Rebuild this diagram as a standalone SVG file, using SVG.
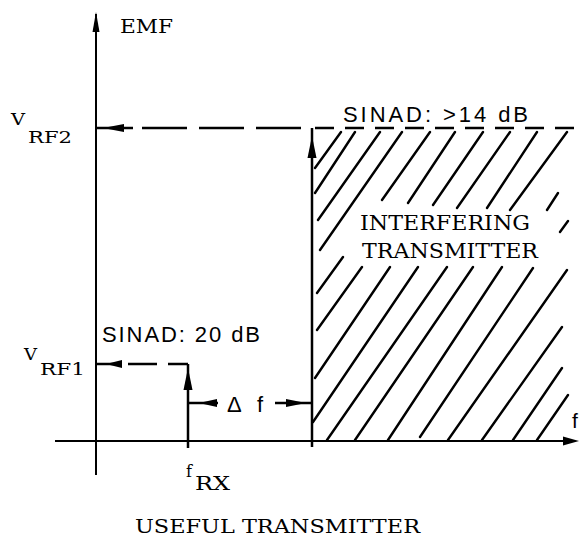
<svg xmlns="http://www.w3.org/2000/svg" width="580" height="540" viewBox="0 0 580 540">
<style>
.ln{stroke:#000;stroke-width:2;fill:none}
.thk{stroke:#000;stroke-width:2.5;fill:none}
.h{stroke:#000;stroke-width:2.4;stroke-linecap:round;fill:none}
.ah{fill:#000;stroke:none}
.sf{font-family:"DejaVu Serif","Liberation Serif",serif;fill:#000}
.ss{font-family:"Liberation Sans",Arial,sans-serif;fill:#000}
</style>
<rect width="580" height="540" fill="#fff"/>

<g id="axes">
  <path class="ln" d="M96 14 V475"/>
  <polygon class="ah" points="96,12 92.5,32 99.5,32"/>
  <path class="ln" d="M55 441 H566"/>
  <polygon class="ah" points="579,441 563,436.5 563,445.5"/>
  <text class="sf" x="120" y="33" font-size="18" textLength="53" lengthAdjust="spacingAndGlyphs">EMF</text>
  <text class="ss" x="572" y="428" font-size="21">f</text>
</g>

<g id="hatch">
  <path class="h" d="M315 168 L341 132 M315 193 L355 132 M318 220 L380 132 M320 250 L402 132 M382 200 L430 132 M408 203 L455 132 M433 205 L483 132 M457 208 L510 132 M487 208 L537 132 M510 210 L567 132 M547 210 L558 193 M560 232 L568 221"/>
  <path class="h" d="M317 293 L343 257 M317 330 L362 267 M315 378 L390 267 M313 422 L418 267 M327 440 L447 267 M355 440 L473 267 M388 440 L502 267 M420 437 L533 268 M448 440 L567 270 M482 440 L562 327 M513 440 L562 368 M537 440 L568 395"/>
</g>

<g id="connectors">
  <path class="thk" d="M97 128 H133"/>
  <polygon class="ah" points="103,128 124,124 124,132"/>
  <path class="thk" d="M142 128 H304" stroke-dasharray="45 12"/>
  <path class="thk" d="M315 128 H580" stroke-dasharray="19 11"/>
  <path class="thk" d="M312 128 V447"/>
  <polygon class="ah" points="312,136 307.5,158 316.5,158"/>
  <path class="thk" d="M96 364 H122"/>
  <polygon class="ah" points="106,364 122,360 122,368"/>
  <path class="thk" d="M128 364 H157 M168 364 H188"/>
  <path class="thk" d="M188 364 V448"/>
  <polygon class="ah" points="188,368 183.5,390 192.5,390"/>
  <path class="thk" d="M188 403 H218"/>
  <polygon class="ah" points="199,403 217,399 217,407"/>
  <path class="thk" d="M275 403 H312"/>
  <polygon class="ah" points="306,403 286,399 286,407"/>
</g>

<g id="labels">
  <text class="sf" x="11" y="125" font-size="16" textLength="14" lengthAdjust="spacingAndGlyphs">V</text>
  <text class="sf" x="28" y="143" font-size="17" textLength="44" lengthAdjust="spacingAndGlyphs">RF2</text>
  <text class="sf" x="24" y="360" font-size="16" textLength="13" lengthAdjust="spacingAndGlyphs">V</text>
  <text class="sf" x="40" y="375" font-size="17" textLength="45" lengthAdjust="spacingAndGlyphs">RF1</text>
  <text class="ss" x="343" y="122" font-size="22" textLength="185" lengthAdjust="spacing">SINAD: &gt;14 dB</text>
  <text class="ss" x="102" y="342" font-size="22" textLength="158" lengthAdjust="spacing">SINAD: 20 dB</text>
  <text class="ss" x="227" y="412" font-size="22" textLength="36" lengthAdjust="spacing">Δ f</text>
  <text class="sf" x="186" y="477" font-size="16">f</text>
  <text class="sf" x="195" y="490" font-size="18" textLength="35" lengthAdjust="spacingAndGlyphs">RX</text>
</g>

<g id="interfering">
  <text class="sf" x="360" y="230" font-size="20" textLength="170" lengthAdjust="spacingAndGlyphs">INTERFERING</text>
  <text class="sf" x="362" y="258" font-size="20" textLength="176" lengthAdjust="spacingAndGlyphs">TRANSMITTER</text>
</g>

<g id="useful">
  <text class="sf" x="135" y="533" font-size="18" textLength="285" lengthAdjust="spacingAndGlyphs">USEFUL TRANSMITTER</text>
</g>
</svg>
